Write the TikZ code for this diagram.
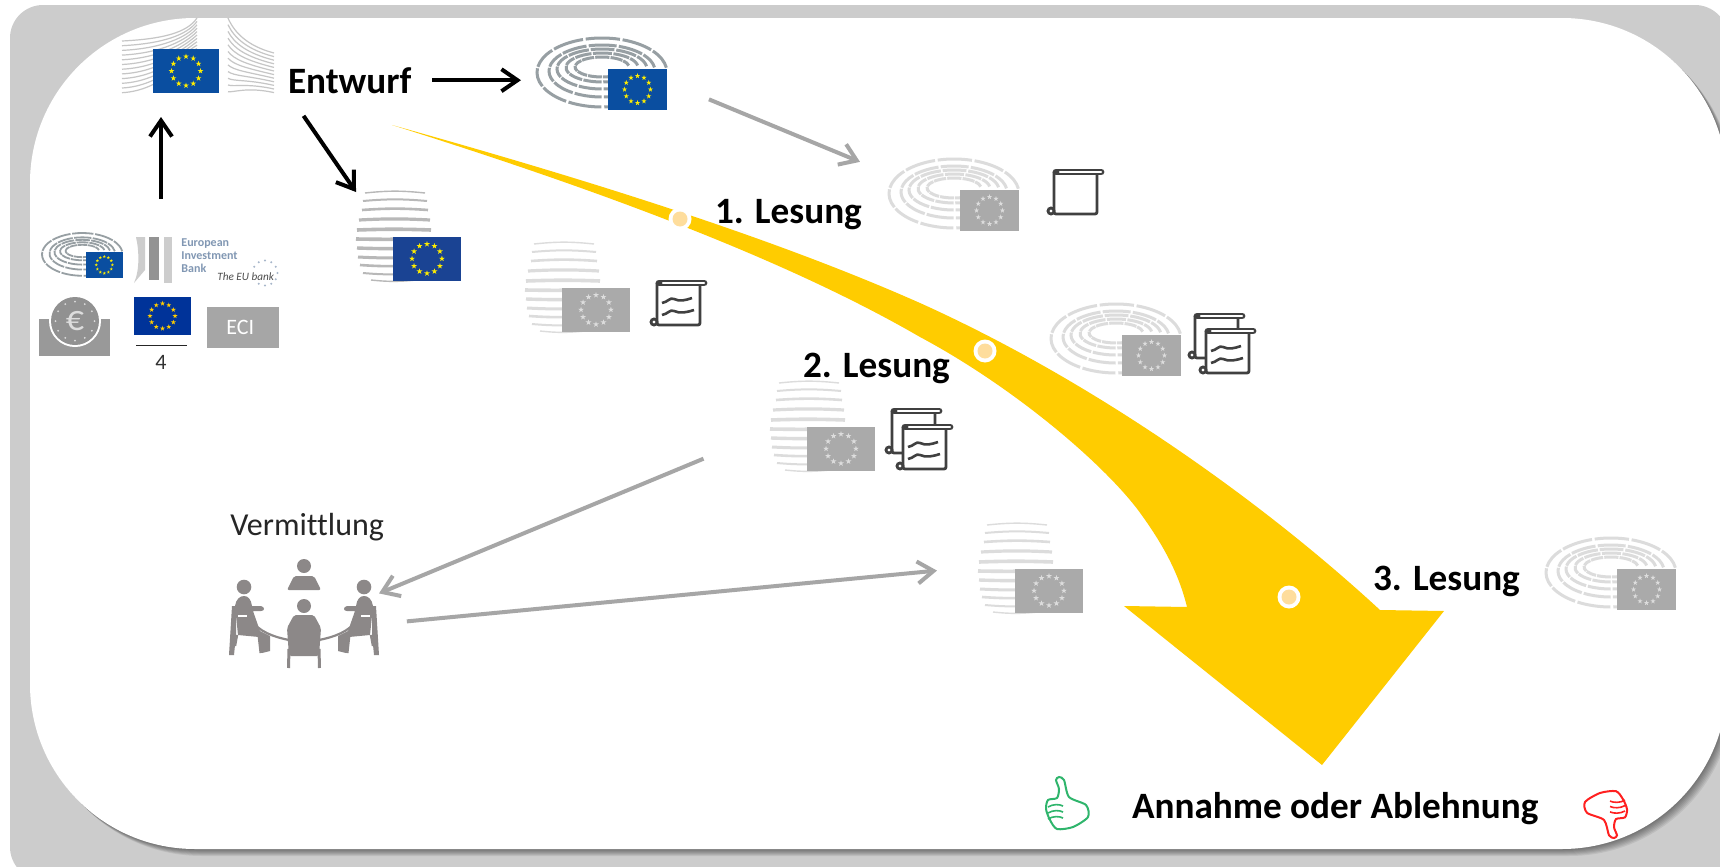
\documentclass[tikz,border=0pt]{standalone}
\usepackage{fontspec}
\setmainfont[Ligatures=NoCommon]{Carlito}
\usepackage{tikz}
\usetikzlibrary{arrows.meta}

\definecolor{framegrey}{HTML}{CCCCCC}
\definecolor{curveyellow}{HTML}{FFCC00}
\definecolor{dotfill}{HTML}{FEDD9C}
\definecolor{arrowgrey}{HTML}{A6A6A6}
\definecolor{paleflag}{HTML}{AAAAAA}
\definecolor{palestar}{HTML}{DDDDDD}
\definecolor{paleseat}{HTML}{DCDCDC}
\definecolor{darkseat}{HTML}{B8B8B8}
\definecolor{hemiseat}{HTML}{979FA3}
\definecolor{blueA}{HTML}{0A4EA0}
\definecolor{blueB}{HTML}{1A4393}
\definecolor{blueC}{HTML}{003399}
\definecolor{starA}{HTML}{FFED00}
\definecolor{scrollink}{HTML}{404040}
\definecolor{peoplegrey}{HTML}{8C8888}
\definecolor{bankblue}{HTML}{8197B3}
\definecolor{thumbgreen}{HTML}{2FB56C}
\definecolor{thumbred}{HTML}{FF2020}

\begin{document}
\begin{tikzpicture}[x=0.5pt, y=-0.5pt,
label/.style={font=\fontsize{18.6}{22}\selectfont\bfseries, inner sep=0pt, outer sep=0pt},
pathblack/.style={->,>={Straight Barb[length=8pt,width=11pt]},line width=2pt,black},
pathgrey/.style={->,>={Straight Barb[length=8pt,width=11pt]},line width=2pt,arrowgrey},
iconbox/.style={inner sep=0pt, outer sep=0pt, transform shape},
seat/.style={line width=1.5pt},
]

\tikzset{
  pics/euflag/.style args={#1,#2}{
     code={
	     \fill[#1] (0,0) rectangle (66,44);
	     \foreach \a in {0,30,...,330}
	       \fill[#2] (33,22) ++(\a:14.5) +(-90:3) -- +(54:3) -- +(198:3) -- +(342:3) -- +(126:3) -- cycle;
     }
  },
  pics/hemi/.style args={#1,#2,#3,#4}{
     code={
	     \node[iconbox, minimum width=65pt, minimum height=36pt] (#1) at (65,36) {};
	     \foreach \r/\s/\c in {65/34.5/34.5,53/26/33,45/20/31,36/14.5/29.5,27/10/29}
	       \foreach \t in {-8,-41,...,-272}
	         \draw[seat, #2] ({65+\r*cos(\t)},{\c+\s*sin(\t)}) arc[start angle=\t, delta angle=-30.5, x radius=\r, y radius=\s];
	     \draw (71,31) pic[transform shape, xscale=0.894, yscale=0.93]{euflag={#3,#4}};
     }
  },
  pics/council/.style args={#1,#2,#3,#4}{
     code={
	     \node[iconbox, minimum width=52.5pt, minimum height=44.5pt] (#1) at (52.5,44.5) {};
	     \foreach \a/\b/\y/\w/\k in {9/69/1/0.7/6,7/71/9/1/5,6/72/18/1.3/4,3/74/28/1.6/3,1/75/38/1.8/2,0/60/47/1.8/-1,1/60/56/1.7/-2,2/60/65/1.5/-3,4/60/73/1.3/-4,7/60/81/1/-5,15/60/88/0.7/-6}
	       \draw[#2, line width=\w pt] (\a,\y) to[bend left=\k] (\b,\y);
	     \draw (37,44.5) pic[xscale=1.03, yscale=1.01]{euflag={#3,#4}};
     }
  },
  pics/commission/.style={
     code={
	     \node[iconbox, minimum width=76pt, minimum height=37.5pt] (#1) at (76,37.5) {};
	     \foreach \k in {0,1,...,11}
	       \draw[darkseat!80, line width=0.6pt] (0,23+4.7*\k) .. controls (40,21+4.7*\k) and (65,15+2.2*\k) .. (75,3.4*\k);
	     \foreach \k in {0,1,...,11}
	       \draw[darkseat!80, line width=0.6pt] (106,6.7*\k) .. controls (112,14+5.5*\k) and (125,28+3.7*\k) .. (152,35+3.6*\k);
	     \draw (31,31) pic{euflag={blueA,starA}};
     }
  },
  pics/scroll/.style={
     code={
	     \draw[scrollink, line width=1.4pt, fill=white, rounded corners=1pt] (7,4) -- (7,46) -- (50,46) -- (50,4);
	     \draw[scrollink, line width=1.4pt, fill=white] (4,43) circle[radius=3];
	     \draw[scrollink, line width=3.4pt, line cap=round] (9,4) -- (54,4);
	     \draw[white, line width=1.2pt, line cap=round] (13,4) -- (54,4);
     }
  },
  pics/notes/.style={
     code={
	     \draw[scrollink, line width=1.3pt] (12,24) .. controls (18,23) and (20,18) .. (24,20) .. controls (30,23) and (36,21) .. (42,19);
	     \draw[scrollink, line width=1.3pt] (12,36) .. controls (18,35) and (20,30) .. (24,32) .. controls (30,35) and (38,33) .. (44,31);
     }
  },
  pics/sitter/.style={
     code={
	     \fill[peoplegrey] (15,28) circle[radius=7.3];
	     \fill[peoplegrey] (6,47) .. controls (7,40) and (11,37) .. (15,37) .. controls (19,37) and (22,40) .. (23,47) -- (32,47) .. controls (36,48) and (36,52) .. (32,52) -- (24,52) -- (31,72) -- (41,77) -- (41,92) -- (33,94) -- (30,78) -- (9,76) -- cycle;
	     \fill[peoplegrey] (3,47) -- (7,47) -- (7,76) -- (5,96) -- (0,96) -- cycle;
	     \draw[peoplegrey, line width=1.2pt] (8,76) -- (6,87);
	     \draw[peoplegrey, line width=1.5pt] (30,76) -- (32,94);
	     \draw[white, line width=0.7pt] (9,57) -- (18,57);
	     \draw[peoplegrey, line width=1.1pt] (21,60) .. controls (30,73) and (45,78) .. (60,81);
     }
  },
  pics/meeting/.style={
     code={
	     \node[iconbox, minimum width=75pt, minimum height=54.5pt] (#1) at (75,54.5) {};
	     \draw (0,0) pic{sitter};
	     \draw (150,0) pic[xscale=-1]{sitter};
	     \fill[peoplegrey] (75,7) circle[radius=7];
	     \fill[peoplegrey, rounded corners=1pt] (58,31) -- (65,17) -- (85,17) -- (92,31) -- cycle;
	     \fill[peoplegrey] (75,47) circle[radius=7];
	     \fill[peoplegrey, rounded corners=1pt] (58,69) -- (65,56) -- (85,56) -- (92,69) -- (90,97) -- (60,97) -- cycle;
	     \draw[peoplegrey, line width=1.5pt] (60,90) -- (59.5,109);
	     \draw[peoplegrey, line width=1.5pt] (90,90) -- (90.5,109);
     }
  },
  pics/thumb/.style={
     code={
	     \draw[#1, line width=1pt] plot[smooth cycle, tension=0.45] coordinates {(14,0) (19,3) (24,20) (41,28) (43,40) (28,50) (12,52) (5,43) (1,32) (3,23) (12,21) (14,12) (11,3)};
	     \foreach \y in {30,36,42}
	       \draw[#1, line width=0.8pt] (3,\y) .. controls (8,\y-3) and (14,\y-3) .. (18,\y-1);
     }
  },
}

\useasboundingbox (0,0) rectangle (1720,867);
\clip (0,0) rectangle (1720,867);

% Frame
\fill[framegrey, rounded corners=16.5pt] (10,5) rectangle (1728,880);
\foreach \d in {1,...,7}
  \fill[black, opacity=0.07, rounded corners=82.5pt] (30+\d,18+\d) rectangle (1727+\d,849+\d);
\fill[white, rounded corners=82.5pt] (30,18) rectangle (1727,849);

% Curve
\fill[curveyellow] (392,125) .. controls (560,172) and (760,232) .. (920,303)
  .. controls (1080,375) and (1250,490) .. (1380,610)
  -- (1444,611) -- (1322,765) -- (1124,606) -- (1187,607)
  .. controls (1178,570) and (1160,540) .. (1138,510)
  .. controls (1100,460) and (1010,385) .. (920,337)
  .. controls (770,250) and (560,178) .. (392,125) -- cycle;
\foreach \p in {(680,219),(985,351),(1289,597)} {
  \fill[white] \p circle[radius=11.5];
  \fill[dotfill] \p circle[radius=7.5];
}

% Institutions
\draw (122,18) pic{commission={ec1}};
\draw (537,38) pic{hemi={ep1,hemiseat,blueA,starA}};
\draw (356,192) pic{council={cc1,darkseat,blueB,starA}};
\draw (889,159) pic{hemi={ep2,paleseat,paleflag,palestar}};
\draw (525,243) pic{council={cc2,paleseat,paleflag,palestar}};
\draw (1051,304) pic{hemi={ep3,paleseat,paleflag,palestar}};
\draw (770,382) pic{council={cc3,paleseat,paleflag,palestar}};
\draw (978,524) pic{council={cc4,paleseat,paleflag,palestar}};
\draw (1546,538) pic{hemi={ep4,paleseat,paleflag,palestar}};
\draw (229,559) pic{meeting={vm}};

% Scrolls
\draw (1047,168) pic{scroll};
\draw (650,279) pic{scroll};
\draw (650,279) pic{notes};
\draw (1188,312) pic{scroll};
\draw (1199,327) pic{scroll};
\draw (1199,327) pic{notes};
\draw (885,407) pic{scroll};
\draw (896,423) pic{scroll};
\draw (896,423) pic{notes};

% Left group
\draw (42,233) pic[transform shape, scale=0.62, seat/.append style={line width=0.9pt}]{hemi={ep0,hemiseat,blueA,starA}};
\fill[darkseat!70] (134,283) .. controls (140,270) and (139,250) .. (136,237) -- (145,237) -- (145,270) -- cycle;
\fill[darkseat!80!black] (149,237) rectangle (159,280);
\fill[darkseat!70] (164,237) rectangle (172,283);
\node[font=\fontsize{6}{6.5}\selectfont\bfseries, text=bankblue, align=left, inner sep=0pt, anchor=west] (eibname) at (181,256) {European\\Investment\\Bank};
\node[font=\fontsize{5.6}{6}\selectfont\itshape, text=black!70, inner sep=0pt, anchor=west] (eibslogan) at (217,277) {The EU bank};
\foreach \a in {-150,-120,...,120}
  \fill[bankblue!70] (265,273) ++(\a:12.5) circle[radius=1.1];
\fill[black!40] (39,319) rectangle (110,356);
\fill[white] (75,321) circle[radius=26];
\fill[black!43] (75,321) circle[radius=24];
\foreach \a in {0,30,...,330}
  \fill[palestar] (75,321) ++(\a:19.5) circle[radius=1];
\node[font=\fontsize{18}{18}\selectfont, text=palestar, inner sep=0pt] (euro) at (75,321) {€};
\draw (134,297) pic[xscale=0.864, yscale=0.864]{euflag={blueC,curveyellow}};
\coordinate (fracl) at (136,345);
\coordinate (fracr) at (187,345);
\draw[black!85, line width=0.5pt] (fracl) -- (fracr);
\node[font=\fontsize{11}{11}\selectfont, text=black!80, inner sep=0pt, anchor=base] (four) at (161,369) {4};
\node[fill=arrowgrey, minimum width=36pt, minimum height=20.5pt, inner sep=0pt] (eci) at (243,327.5) {};
\node[font=\fontsize{11}{11}\selectfont, text=white, inner sep=0pt, anchor=base west] (ecitext) at (226,334) {ECI};
\coordinate (sources) at (161,199);

% Labels
\node[label, anchor=base west] (entwurf) at (288,93) {Entwurf};
\node[label, anchor=base west] (lesung1) at (715,223) {1. Lesung};
\node[label, anchor=base west] (lesung2) at (803,377) {2. Lesung};
\node[label, anchor=base west] (lesung3) at (1373,590) {3. Lesung};
\node[label, anchor=base west] (annahme) at (1132,818) {Annahme oder Ablehnung};
\node[font=\fontsize{16}{18}\selectfont, text=black!85, inner sep=0pt, anchor=base west] (vermittlung) at (230,535) {Vermittlung};
\draw (1045,777) pic{thumb={thumbgreen}};
\draw (1628,838) pic[rotate=180, yscale=0.9]{thumb={thumbred}};

% Paths
\draw[pathblack, shorten >=12pt] (sources) -- (sources |- ec1.south);
\draw[pathblack, shorten <=10.5pt, shorten >=8pt] (entwurf.east) -- (entwurf.east -| ep1.west);
\draw[pathblack, shorten <=13.7pt] (entwurf.south west) -- (cc1.north west);
\draw[pathgrey, shorten <=22.7pt, shorten >=15.7pt] (ep1.-7) -- (ep2.162);
\draw[pathgrey, shorten <=36pt] (cc3.185) -- (vm.15);
\draw[pathgrey, shorten <=14pt, shorten >=20.6pt] (vm.-8) -- (cc4.178);
\end{tikzpicture}
\end{document}
